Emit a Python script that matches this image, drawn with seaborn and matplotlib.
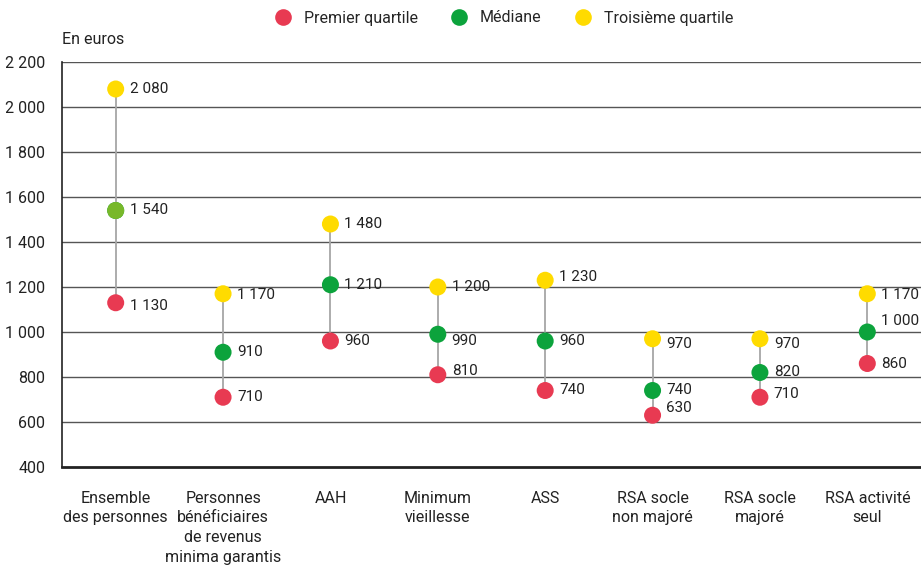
import numpy as np
import pandas as pd
import matplotlib
matplotlib.use("Agg")
import matplotlib.pyplot as plt
import matplotlib.ticker as mticker
from matplotlib.lines import Line2D
import seaborn as sns

categories = ["Ensemble\ndes personnes", "Personnes\nbénéficiaires\nde revenus\nminima garantis",
              "AAH", "Minimum\nvieillesse", "ASS", "RSA socle\nnon majoré",
              "RSA socle\nmajoré", "RSA activité\nseul"]
q1 = [1130, 710, 960, 810, 740, 630, 710, 860]
median = [1540, 910, 1210, 990, 960, 740, 820, 1000]
q3 = [2080, 1170, 1480, 1200, 1230, 970, 970, 1170]
series_names = ["Premier quartile", "Médiane", "Troisième quartile"]

# small vertical nudges for value labels (points)
dy_q1 = [-2, 0, 0, 3, 0, 5, 2, 0]
dy_med = [0, 0, 0, -5, 0, 0, 0, 8]
dy_q3 = [0, -1, 0, 0, 2, -4, -4, -1]

RED = "#e83a52"
GREEN = "#0ca33c"
LIGHTGREEN = "#78b82a"
YELLOW = "#ffdb00"
TXT = "#222222"
FS = 11.5

sns.set_style("white")
plt.rcParams["font.family"] = ["Roboto", "DejaVu Sans"]

df = pd.DataFrame({"cat": categories, "q1": q1, "median": median, "q3": q3})
df["x"] = np.arange(len(categories))

fig = plt.figure(figsize=(9.21, 5.70), dpi=100)
ax = fig.add_axes([62 / 921, 1 - 467 / 570, 1 - 62 / 921, (467 - 62) / 570])

ax.set_ylim(400, 2200)
ax.set_xlim(-0.5, 7.5)
ax.set_yticks(np.arange(400, 2201, 200))
ax.yaxis.set_major_formatter(mticker.FuncFormatter(lambda v, p: f"{int(v):,}".replace(",", " ")))
for y in np.arange(600, 2201, 200):
    ax.axhline(y, color="#555555", lw=1.0, zorder=0)

ax.vlines(df["x"], df["q1"], df["q3"], color="#a6a6a6", lw=1.3, zorder=1)

sns.scatterplot(data=df, x="x", y="q1", color=RED, s=150, edgecolor="none", ax=ax, zorder=3)
sns.scatterplot(data=df, x="x", y="median", color=GREEN, s=150, edgecolor="none", ax=ax, zorder=3)
sns.scatterplot(data=df.iloc[:1], x="x", y="median", color=LIGHTGREEN, s=150, edgecolor="none", ax=ax, zorder=4)
sns.scatterplot(data=df, x="x", y="q3", color=YELLOW, s=150, edgecolor="none", ax=ax, zorder=3)

fmt = lambda v: f"{v:,}".replace(",", " ")
for vals, dys in [(q1, dy_q1), (median, dy_med), (q3, dy_q3)]:
    for i, (v, d) in enumerate(zip(vals, dys)):
        ax.annotate(fmt(v), (i, v), xytext=(10, d), textcoords="offset points",
                    va="center", ha="left", fontsize=11, color=TXT)

ax.set_xticks(df["x"])
ax.set_xticklabels(categories, fontsize=FS, color=TXT, linespacing=1.4)
ax.set_xticks(np.arange(-0.5, 7.5, 1), minor=True)
ax.tick_params(axis="x", which="major", length=0, pad=17)
ax.tick_params(axis="x", which="minor", length=7, width=1.2, color=TXT, direction="out")
ax.tick_params(axis="y", length=0, labelsize=FS, labelcolor=TXT, pad=12)
ax.set_xlabel("")
ax.set_ylabel("")

for s in ["top", "right"]:
    ax.spines[s].set_visible(False)
ax.spines["left"].set_color(TXT)
ax.spines["left"].set_linewidth(1.2)
ax.spines["bottom"].set_color(TXT)
ax.spines["bottom"].set_linewidth(2)

fig.text(62 / 921, 1 - 40 / 570, "En euros", fontsize=FS, color=TXT, ha="left", va="center")

handles = [Line2D([], [], marker="o", ls="", markersize=12, markerfacecolor=c, markeredgecolor="none")
           for c in [RED, GREEN, YELLOW]]
fig.legend(handles, series_names, loc="center", bbox_to_anchor=(500 / 921, 1 - 18 / 570),
           ncol=3, frameon=False, fontsize=FS, handletextpad=0.3, columnspacing=1.6)

fig.savefig("out.png", dpi=100)
